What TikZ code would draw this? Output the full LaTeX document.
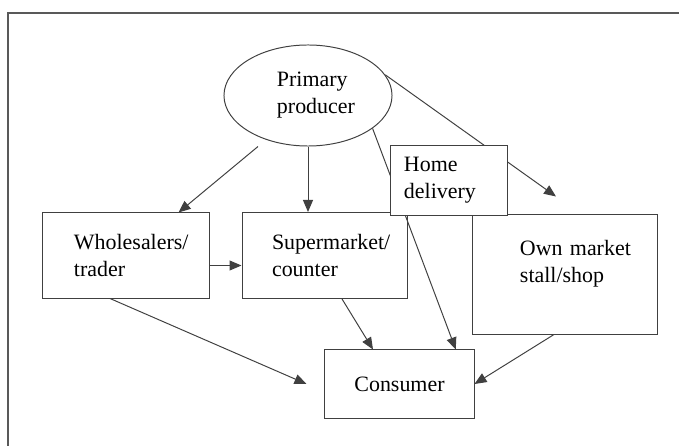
\documentclass[tikz,border=0pt]{standalone}
\usepackage{fontspec}
\setmainfont{Liberation Serif}
\usepackage{xcolor}
\usepackage{tikz}
\usetikzlibrary{shapes,arrows.meta,positioning,calc}

\tikzset{
  box/.style={rectangle, draw=black!75, line width=0.7pt, inner sep=0pt, align=left,
    font=\fontsize{15.6}{19.2}\selectfont},
  arr/.style={-{Triangle[length=0.3cm,width=0.25cm]}, draw=black!75, line width=0.7pt},
}

\begin{document}
\begin{tikzpicture}[x=0.025cm, y=-0.025cm]
    \clip (0,0) rectangle (679,446);
    \draw [black!65, line width=0.9pt] (8,13) rectangle (700,470);

    \node (prod) [box, ellipse, minimum width=4.2cm, minimum height=2.525cm, text width=1.55cm] at (308,95.5) {Primary\\producer};
    \node (whole) [box, minimum width=4.15cm, minimum height=2.125cm, text width=2.6cm] at (126,255.5) {Wholesalers/\\trader};
    \node (super) [box, right=0.8cm of whole, minimum width=4.125cm, minimum height=2.15cm, text width=2.625cm] {Supermarket/\\counter};
    % empty last line lifts the text a little
    \node (own) [box, minimum width=4.6cm, minimum height=2.975cm, text width=2.25cm] at (565,274.5) {\mbox{Own market}\\stall/shop\\~};
    \node (cons) [box, align=center, minimum width=3.725cm, minimum height=1.7cm] at (399.5,384) {Consumer};

    \draw [arr] ($(prod.south)+(-50,0)$) -- ($(whole.north east)+(-31,0)$);
    \draw [arr] (prod.south) -- (prod.south |- super.north);
    \draw [arr] (prod.-27) -- ($(cons.north)!0.75!(cons.north east)$);
    \coordinate (ownin) at ($(own.north)+(-9,-18)$);
    \draw [arr] (prod.15) -- (ownin);
    \draw [arr] ($(whole.east)+(0,10)$) -- ($(super.west)+(0,10)$);
    \draw [arr] ($(whole.south)+(-16,0)$) -- ($(cons.west)+(-18,0)$);
    \draw [arr] ($(super.south)+(17.5,0)$) -- ($(cons.north)+(-26.5,0)$);
    \draw [arr] ($(own.south)+(-11,0)$) -- (cons.east);

    % drawn last so it covers the lines behind it
    \node (home) [box, fill=white, minimum width=2.9cm, minimum height=1.725cm, text width=2.25cm] at (449,180.5) {Home\\delivery};
\end{tikzpicture}
\end{document}
